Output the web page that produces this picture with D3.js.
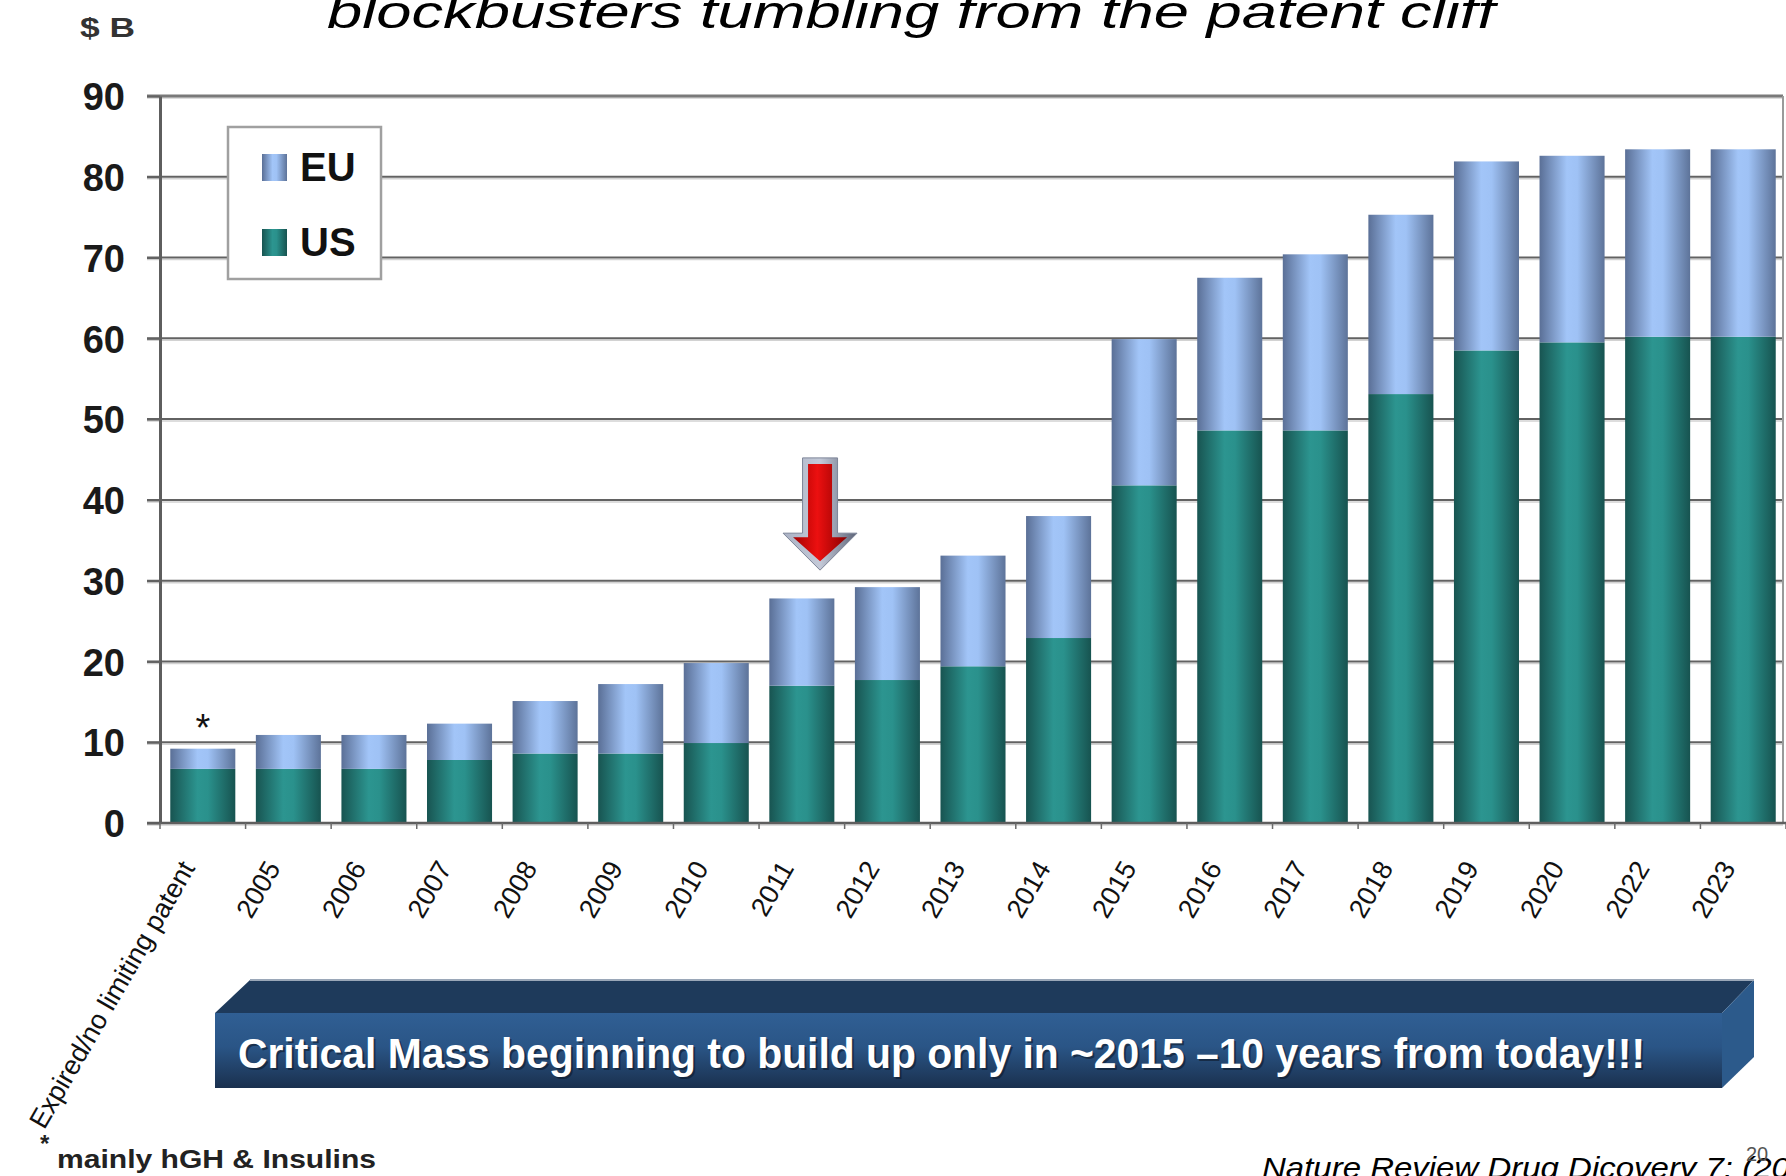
<!DOCTYPE html>
<html>
<head>
<meta charset="utf-8">
<script src="https://cdn.jsdelivr.net/npm/d3@7"></script>
<style>
	html, body { margin: 0; padding: 0; background: #fff; }
	svg { display: block; font-family: Arial, "Liberation Sans", sans-serif; }
</style>
</head>
<body>
<script>

// categories and values (in $ billions)
const categories = [
	'Expired/no limiting patent', '2005', '2006', '2007', '2008', '2009', '2010',
	'2011', '2012', '2013', '2014', '2015', '2016', '2017', '2018', '2019',
	'2020', '2022', '2023'
];
const usValues = [6.7, 6.7, 6.7, 7.8, 8.6, 8.6, 9.9, 17.0, 17.7, 19.4, 22.9, 41.8, 48.6, 48.6, 53.1, 58.5, 59.5, 60.2, 60.2];
const euValues = [2.5, 4.2, 4.2, 4.5, 6.5, 8.6, 9.9, 10.8, 11.5, 13.7, 15.1, 18.1, 18.9, 21.8, 22.2, 23.4, 23.1, 23.2, 23.2];
const seriesKeys = ['US', 'EU'];
const legendKeys = ['EU', 'US'];
const yTickValues = [0, 10, 20, 30, 40, 50, 60, 70, 80, 90];

const TITLE = 'blockbusters tumbling from the patent cliff';
const BANNER = 'Critical  Mass beginning to build up only in ~2015 \u201310 years from today!!!';
const FOOTNOTE = 'mainly hGH & Insulins';
const CITATION = 'Nature Review Drug Dicovery 7: (2008)';

const W = 1786,
	H = 1176,
	PLOT_LEFT = 160,
	PLOT_RIGHT = 1786,
	PLOT_TOP = 96,
	PLOT_BOTTOM = 823,
	FRAME_RIGHT = 1783;

const COLORS = {
	US: ['#185451', '#2c9590', '#2a918c', '#175350'],
	EU: ['#5a6f96', '#a2c5f8', '#9fc2f5', '#5d7399']
};

let rows = categories.map((c, i) => ({ cat: c, US: usValues[i], EU: euValues[i] }));
let stacked = d3.stack().keys(seriesKeys)(rows);

let svg = d3.select('body').append('svg')
	.attr('width', W)
	.attr('height', H);

let defs = svg.append('defs');

// horizontal "cylinder" shading, same as the excel bars
Object.keys(COLORS).forEach(k => {
	let g = defs.append('linearGradient')
		.attr('id', 'grad-' + k)
		.attr('x1', 0).attr('x2', 1).attr('y1', 0).attr('y2', 0);
	[0, 0.42, 0.58, 1].forEach((o, i) => {
		g.append('stop').attr('offset', o).attr('stop-color', COLORS[k][i]);
	});
});

let bannerGrad = defs.append('linearGradient')
	.attr('id', 'grad-banner')
	.attr('x1', 0).attr('x2', 0).attr('y1', 0).attr('y2', 1);
bannerGrad.append('stop').attr('offset', 0).attr('stop-color', '#305f94');
bannerGrad.append('stop').attr('offset', 0.45).attr('stop-color', '#2a5586');
bannerGrad.append('stop').attr('offset', 1).attr('stop-color', '#1a304e');

let arrowGray = defs.append('linearGradient')
	.attr('id', 'grad-arrow-gray')
	.attr('x1', 0).attr('x2', 1).attr('y1', 0).attr('y2', 0);
arrowGray.append('stop').attr('offset', 0).attr('stop-color', '#a9b1c4');
arrowGray.append('stop').attr('offset', 0.5).attr('stop-color', '#c4cad8');
arrowGray.append('stop').attr('offset', 1).attr('stop-color', '#5c6377');

let arrowRed = defs.append('linearGradient')
	.attr('id', 'grad-arrow-red')
	.attr('x1', 0).attr('x2', 1).attr('y1', 0).attr('y2', 0);
arrowRed.append('stop').attr('offset', 0).attr('stop-color', '#a40000');
arrowRed.append('stop').attr('offset', 0.45).attr('stop-color', '#ec1010');
arrowRed.append('stop').attr('offset', 1).attr('stop-color', '#8c0000');

let x = d3.scaleBand()
	.domain(categories)
	.range([PLOT_LEFT, PLOT_RIGHT])
	.paddingInner(0.24)
	.paddingOuter(0.12);

let y = d3.scaleLinear()
	.domain([0, 90])
	.range([PLOT_BOTTOM, PLOT_TOP]);

// title, only its lower half is on the slide
svg.append('text')
	.attr('x', 327)
	.attr('y', 28)
	.attr('font-size', 47)
	.attr('font-style', 'italic')
	.attr('textLength', 1168)
	.attr('lengthAdjust', 'spacingAndGlyphs')
	.attr('fill', '#000')
	.text(TITLE);

svg.append('text')
	.attr('x', 80)
	.attr('y', 37)
	.attr('font-size', 27)
	.attr('font-weight', 'bold')
	.attr('textLength', 55)
	.attr('lengthAdjust', 'spacingAndGlyphs')
	.attr('fill', '#333')
	.text('$ B');

// gridlines (with the faint drop shadow)
let grid = svg.append('g').attr('class', 'grid');
grid.selectAll('line.shadow')
	.data(yTickValues)
	.join('line')
	.attr('class', 'shadow')
	.attr('x1', PLOT_LEFT - 13).attr('x2', FRAME_RIGHT)
	.attr('y1', d => y(d) + 2).attr('y2', d => y(d) + 2)
	.attr('stroke', '#d2d2d2')
	.attr('stroke-width', 1.5);
grid.selectAll('line.main')
	.data(yTickValues)
	.join('line')
	.attr('class', 'main')
	.attr('x1', PLOT_LEFT - 13).attr('x2', FRAME_RIGHT)
	.attr('y1', d => y(d)).attr('y2', d => y(d))
	.attr('stroke', d => d === 90 ? '#7a7a7a' : '#626262')
	.attr('stroke-width', d => d === 90 ? 3 : 2);

// right frame
svg.append('line')
	.attr('x1', FRAME_RIGHT).attr('x2', FRAME_RIGHT)
	.attr('y1', PLOT_TOP).attr('y2', PLOT_BOTTOM)
	.attr('stroke', '#9a9a9a')
	.attr('stroke-width', 2);

// bars
svg.append('g')
	.selectAll('g')
	.data(stacked)
	.join('g')
	.attr('fill', d => 'url(#grad-' + d.key + ')')
	.selectAll('rect')
	.data(d => d)
	.join('rect')
	.attr('x', d => x(d.data.cat))
	.attr('y', d => y(d[1]))
	.attr('width', x.bandwidth())
	.attr('height', d => y(d[0]) - y(d[1]));

// y axis
let yAxis = svg.append('g')
	.attr('transform', 'translate(' + PLOT_LEFT + ',0)')
	.call(d3.axisLeft(y).tickValues(yTickValues).tickSize(13).tickPadding(22).tickSizeOuter(0));
yAxis.select('.domain').attr('stroke', '#5e5e5e').attr('stroke-width', 3);
yAxis.selectAll('.tick line').attr('stroke', '#626262').attr('stroke-width', 2);
yAxis.selectAll('.tick text')
	.attr('font-size', 38)
	.attr('font-weight', 'bold')
	.attr('font-family', 'Arial, "Liberation Sans", sans-serif')
	.attr('fill', '#1a1a1a')
	.attr('dy', '0.36em');

// x axis, ticks sit between the categories
let xAxis = svg.append('g')
	.attr('transform', 'translate(0,' + PLOT_BOTTOM + ')')
	.call(d3.axisBottom(x).tickSize(0).tickPadding(0));
xAxis.select('.domain').remove();
xAxis.append('line')
	.attr('x1', PLOT_LEFT - 13).attr('x2', PLOT_RIGHT)
	.attr('stroke', '#5e5e5e')
	.attr('stroke-width', 2.5);
xAxis.selectAll('line.boundary')
	.data(d3.range(categories.length + 1))
	.join('line')
	.attr('class', 'boundary')
	.attr('x1', i => PLOT_LEFT + i * x.step())
	.attr('x2', i => PLOT_LEFT + i * x.step())
	.attr('y1', 0).attr('y2', 6)
	.attr('stroke', '#6a6a6a')
	.attr('stroke-width', 1.5);
xAxis.selectAll('.tick text')
	.attr('y', 0)
	.attr('dy', 0)
	.attr('font-size', 27)
	.attr('font-family', 'Arial, "Liberation Sans", sans-serif')
	.attr('fill', '#111')
	.attr('text-anchor', 'end')
	.attr('transform', 'translate(-7,45) rotate(-60)');

// legend
let legend = svg.append('g').attr('transform', 'translate(228,127)');
legend.append('rect')
	.attr('width', 153).attr('height', 152)
	.attr('fill', '#fff')
	.attr('stroke', '#a0a0a0')
	.attr('stroke-width', 2.5);
let legendItems = legend.selectAll('g.item')
	.data(legendKeys)
	.join('g')
	.attr('class', 'item')
	.attr('transform', (d, i) => 'translate(34,' + (27 + i * 75) + ')');
legendItems.append('rect')
	.attr('width', 25).attr('height', 27)
	.attr('fill', d => 'url(#grad-' + d + ')');
legendItems.append('text')
	.attr('x', 38)
	.attr('y', 27)
	.attr('font-size', 40)
	.attr('font-weight', 'bold')
	.attr('fill', '#111')
	.text(d => d);

// asterisk over the first bar
svg.append('text')
	.attr('x', x(categories[0]) + x.bandwidth() / 2)
	.attr('y', y(usValues[0] + euValues[0]) - 8)
	.attr('text-anchor', 'middle')
	.attr('font-size', 38)
	.attr('fill', '#111')
	.text('*');

// red arrow pointing at 2011/2012
let ax = x('2011') + x.bandwidth() * 0.78,
	aTop = y(45.2),
	aTip = y(31.3),
	aShoulder = aTip - 37;
let outerPts = [
	[ax - 17.5, aTop], [ax + 17.5, aTop], [ax + 17.5, aShoulder], [ax + 37, aShoulder],
	[ax, aTip], [ax - 37, aShoulder], [ax - 17.5, aShoulder]
];
let innerPts = [
	[ax - 12, aTop + 6], [ax + 12, aTop + 6], [ax + 12, aShoulder + 4], [ax + 27, aShoulder + 4],
	[ax, aTip - 9], [ax - 27, aShoulder + 4], [ax - 12, aShoulder + 4]
];
svg.append('polygon')
	.attr('points', outerPts.map(p => p.join(',')).join(' '))
	.attr('fill', 'url(#grad-arrow-gray)')
	.attr('stroke', '#7d8598')
	.attr('stroke-width', 1);
svg.append('polygon')
	.attr('points', innerPts.map(p => p.join(',')).join(' '))
	.attr('fill', 'url(#grad-arrow-red)');

// 3d banner
let banner = svg.append('g');
banner.append('polygon')
	.attr('points', '215,1013 250,980 1754,980 1722,1013')
	.attr('fill', '#1e3a5b');
banner.append('polygon')
	.attr('points', '1722,1013 1754,980 1754,1057 1722,1088')
	.attr('fill', '#2c5a8b');
banner.append('rect')
	.attr('x', 215).attr('y', 1013)
	.attr('width', 1507).attr('height', 75)
	.attr('fill', 'url(#grad-banner)');
banner.append('line')
	.attr('x1', 250).attr('x2', 1754).attr('y1', 980).attr('y2', 980)
	.attr('stroke', '#9aa7b8').attr('stroke-width', 2);
banner.append('text')
	.attr('x', 240).attr('y', 1070)
	.attr('font-size', 43)
	.attr('font-weight', 'bold')
	.attr('textLength', 1407)
	.attr('lengthAdjust', 'spacingAndGlyphs')
	.attr('fill', '#0e1a2a')
	.attr('opacity', 0.6)
	.text(BANNER);
banner.append('text')
	.attr('x', 238).attr('y', 1068)
	.attr('font-size', 43)
	.attr('font-weight', 'bold')
	.attr('textLength', 1407)
	.attr('lengthAdjust', 'spacingAndGlyphs')
	.attr('fill', '#fff')
	.text(BANNER);

// footnote
svg.append('text')
	.attr('x', 40).attr('y', 1152)
	.attr('font-size', 24)
	.attr('font-weight', 'bold')
	.attr('fill', '#222')
	.text('*');
svg.append('text')
	.attr('x', 57).attr('y', 1168)
	.attr('font-size', 26)
	.attr('font-weight', 'bold')
	.attr('textLength', 319)
	.attr('lengthAdjust', 'spacingAndGlyphs')
	.attr('fill', '#222')
	.text(FOOTNOTE);

// citation, runs off the slide
svg.append('text')
	.attr('transform', 'translate(1262,1178) scale(1.1,1)')
	.attr('font-size', 30)
	.attr('font-style', 'italic')
	.attr('fill', '#000')
	.text(CITATION);

// slide number showing through
svg.append('text')
	.attr('x', 1746).attr('y', 1161)
	.attr('font-size', 20)
	.attr('fill', '#555')
	.text('20');

</script>
</body>
</html>
